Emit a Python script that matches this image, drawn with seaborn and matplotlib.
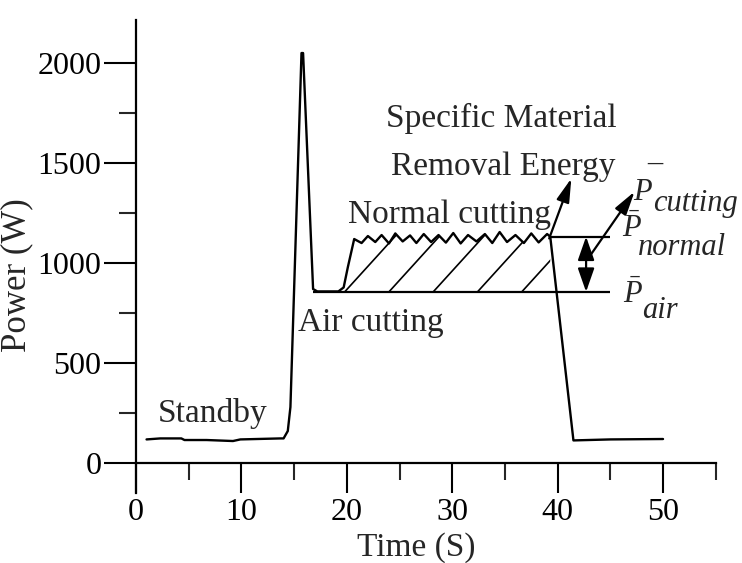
import numpy as np
import pandas as pd
import seaborn as sns
import matplotlib
matplotlib.use("Agg")
import matplotlib.pyplot as plt
from matplotlib.patches import Polygon

# ---------------- data ----------------
time_s = [1.0, 2.3, 4.3, 4.6, 6.7, 9.2, 9.9, 13.7, 14.0, 14.4, 14.65, 15.7, 15.85,
          16.8, 17.2, 19.2, 19.7, 20.1, 20.7,
          21.4, 22.0, 22.7, 23.3, 24.0, 24.6, 25.3, 26.0, 26.6, 27.3, 28.0, 28.7,
          29.4, 30.1, 30.8, 31.5, 32.3, 33.1, 33.8, 34.5, 35.2, 36.0, 36.8, 37.5,
          38.2, 39.0, 39.3, 41.5, 45.0, 50.0]
power_w = [118, 123, 123, 115, 115, 110, 118, 123, 123, 160, 280, 2050, 2050,
           870, 858, 858, 878, 980, 1120,
           1100, 1135, 1105, 1140, 1098, 1148, 1108, 1138, 1100, 1145, 1105, 1140,
           1102, 1150, 1098, 1140, 1108, 1145, 1100, 1155, 1105, 1140, 1100, 1148,
           1103, 1145, 1132, 113, 118, 120]

p_air = 856
p_normal = 1132

x_major = [0, 10, 20, 30, 40, 50]
x_minor = [5, 15, 25, 35, 45, 55]
y_major = [0, 500, 1000, 1500, 2000]
y_minor = [250, 750, 1250, 1750]

# ---------------- style ----------------
sns.set_style("ticks")
plt.rcParams["font.family"] = ["Liberation Serif", "DejaVu Serif"]
plt.rcParams["mathtext.fontset"] = "custom"
plt.rcParams["mathtext.rm"] = "Liberation Serif"
plt.rcParams["mathtext.it"] = "Liberation Serif:italic"

fig = plt.figure(figsize=(7.42, 5.63), dpi=100)
ax = fig.add_axes([0.1833, 0.1243, 0.7813, 0.8401])

df = pd.DataFrame({"Time": time_s, "Power": power_w})
sns.lineplot(data=df, x="Time", y="Power", sort=False, estimator=None,
             color="black", lw=1.7, ax=ax)

# reference levels
ax.hlines(p_air, 16.8, 45.0, color="black", lw=1.6)
ax.hlines(p_normal, 39.3, 45.0, color="black", lw=1.6)

# hatched region between normal cutting curve and air level
t = np.array(time_s, dtype=float)
p = np.array(power_w, dtype=float)
sel = (t >= 19.2) & (t <= 39.3)
x_cross = np.interp(p_air, [p[-4], p[-5]], [t[-4], t[-5]])
verts = [(19.2, p_air)] + list(zip(t[sel], p[sel])) + [(x_cross, p_air)]
poly = Polygon(verts, closed=True, facecolor="none", edgecolor="none",
               transform=ax.transData)
ax.add_patch(poly)
for x0 in np.arange(19.8, 39.5, 4.2):
    ln, = ax.plot([x0, x0 + 8], [p_air, p_air + 8 * 58], color="black", lw=1.2)
    ln.set_clip_path(poly)

# arrows
arrow_kw = dict(arrowstyle="-|>,head_length=0.8,head_width=0.22",
                color="black", lw=1.6, shrinkA=0, shrinkB=0, mutation_scale=18)
ax.annotate("", xy=(41.3, 1423), xytext=(39.2, 1123), arrowprops=arrow_kw)
ax.annotate("", xy=(47.3, 1357), xytext=(42.9, 1023), arrowprops=arrow_kw)
dbl_kw = dict(arrow_kw)
dbl_kw["arrowstyle"] = "<|-|>,head_length=0.8,head_width=0.28"
ax.annotate("", xy=(42.7, p_normal), xytext=(42.7, p_air), arrowprops=dbl_kw)

# axes
ax.set_xlim(0, 55)
ax.set_ylim(-150, 2215)
for s in ["top", "right"]:
    ax.spines[s].set_visible(False)
ax.spines["left"].set_position(("data", 0))
ax.spines["bottom"].set_position(("data", 0))
for s in ["left", "bottom"]:
    ax.spines[s].set_color("black")
    ax.spines[s].set_linewidth(1.6)

ax.set_xticks(x_major)
ax.set_xticks(x_minor, minor=True)
ax.set_yticks(y_major)
ax.set_yticks(y_minor, minor=True)
ax.tick_params(axis="x", which="major", direction="out", length=21.5, width=1.5,
               pad=4, labelsize=23, colors="black")
ax.tick_params(axis="x", which="minor", direction="out", length=12, width=1.5)
ax.tick_params(axis="y", which="major", direction="out", length=23, width=1.5,
               pad=2, labelsize=23, colors="black")
ax.tick_params(axis="y", which="minor", direction="out", length=12, width=1.5)

ax.set_xlabel("Time (S)", fontsize=24)
ax.xaxis.set_label_coords(0.483, -0.082)
ax.set_ylabel("Power (W)", fontsize=25)
ax.yaxis.set_label_coords(-0.177, 0.461)

# annotations
fs = 24
ax.text(2.1, 205, "Standby", fontsize=fs, va="baseline", ha="left")
ax.text(15.4, 660, "Air cutting", fontsize=fs, va="baseline", ha="left")
ax.text(20.15, 1198, "Normal cutting", fontsize=fs, va="baseline", ha="left")
ax.text(34.7, 1682, "Specific Material", fontsize=fs, va="baseline", ha="center")
ax.text(34.8, 1440, "Removal Energy", fontsize=fs, va="baseline", ha="center")

fs2 = 22
ax.text(47.15, 1315, r"$P$", fontsize=fs2, va="baseline", ha="left")
ax.text(49.2, 1500, "\u2013", fontsize=fs2, va="center", ha="center")
ax.text(49.05, 1262, "cutting", fontsize=fs2, style="italic", va="baseline", ha="left")
ax.text(46.1, 1132, r"$\bar{P}$", fontsize=fs2, va="baseline", ha="left")
ax.text(47.6, 1040, "normal", fontsize=fs2, style="italic", va="baseline", ha="left")
ax.text(46.2, 800, r"$\bar{P}$", fontsize=fs2, va="baseline", ha="left")
ax.text(48.0, 725, "air", fontsize=fs2, style="italic", va="baseline", ha="left")

fig.savefig("out.png", dpi=100, facecolor="white")
